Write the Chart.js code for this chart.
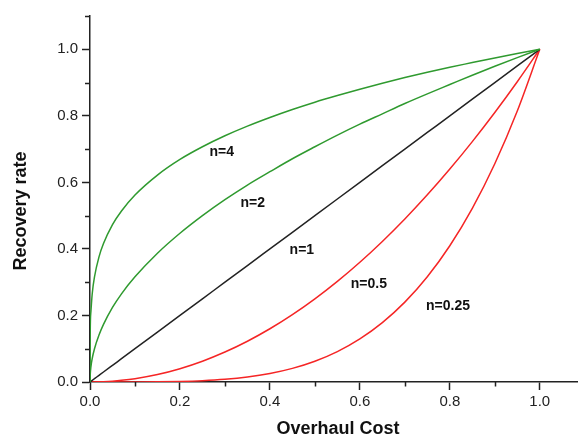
<!DOCTYPE html>
<html>
<head>
<meta charset="utf-8">
<script src="https://cdn.jsdelivr.net/npm/chart.js@4/dist/chart.umd.min.js"></script>
<style>
  html, body { margin: 0; padding: 0; background: #fff; overflow: hidden; }
  #wrap { width: 578px; height: 445px; position: relative; }
</style>
</head>
<body>
<div id="wrap"><canvas id="curveChart"></canvas></div>
<script>
// overhaul cost (x) sampled along each curve
const costs = [0, 0.0005, 0.002, 0.005, 0.01, 0.02, 0.03, 0.05, 0.07, 0.1, 0.15, 0.2, 0.25, 0.3, 0.35,
               0.4, 0.45, 0.5, 0.55, 0.6, 0.65, 0.7, 0.75, 0.8, 0.85, 0.9, 0.95, 1.0];

// recovery rate for each n
const rateN4 = [0, 0.150, 0.211, 0.266, 0.316, 0.376, 0.416, 0.473, 0.514, 0.562, 0.622, 0.669, 0.707, 0.740,
                0.769, 0.795, 0.819, 0.841, 0.861, 0.880, 0.898, 0.915, 0.931, 0.946, 0.960, 0.974, 0.987, 1.0];
const rateN2 = [0, 0.022, 0.045, 0.071, 0.100, 0.141, 0.173, 0.224, 0.265, 0.316, 0.387, 0.447, 0.500, 0.548,
                0.592, 0.632, 0.671, 0.707, 0.742, 0.775, 0.806, 0.837, 0.866, 0.894, 0.922, 0.949, 0.975, 1.0];
const rateN1 = [0, 0.0005, 0.002, 0.005, 0.01, 0.02, 0.03, 0.05, 0.07, 0.1, 0.15, 0.2, 0.25, 0.3, 0.35,
                0.4, 0.45, 0.5, 0.55, 0.6, 0.65, 0.7, 0.75, 0.8, 0.85, 0.9, 0.95, 1.0];
const rateN05 = [0, 0, 0, 0, 0.0001, 0.0004, 0.0009, 0.0025, 0.0049, 0.010, 0.0225, 0.040, 0.0625, 0.090,
                 0.1225, 0.160, 0.2025, 0.250, 0.3025, 0.360, 0.4225, 0.490, 0.5625, 0.640, 0.7225, 0.810, 0.9025, 1.0];
const rateN025 = [0, 0, 0, 0, 0, 0, 0, 0, 0, 0.0001, 0.0005, 0.0016, 0.0039, 0.0081, 0.015, 0.0256, 0.041,
                  0.0625, 0.0915, 0.1296, 0.1785, 0.2401, 0.3164, 0.4096, 0.522, 0.6561, 0.8145, 1.0];

// curve labels, placed in data units
const curveLabels = [
  { text: 'n=4',    x: 0.293, y: 0.690 },
  { text: 'n=2',    x: 0.362, y: 0.539 },
  { text: 'n=1',    x: 0.471, y: 0.395 },
  { text: 'n=0.5',  x: 0.620, y: 0.295 },
  { text: 'n=0.25', x: 0.796, y: 0.229 }
];

const GREEN = '#2f9a2f';
const RED = '#f52525';
const INK = '#222';
const FONT = '"Liberation Sans", Arial, Helvetica, sans-serif';

function toPoints(ys) {
  return costs.map((c, i) => ({ x: c, y: ys[i] }));
}

function curve(ys, color) {
  return {
    data: toPoints(ys),
    borderColor: color,
    borderWidth: 1.5,
    pointRadius: 0,
    fill: false,
    cubicInterpolationMode: 'monotone'
  };
}

// odd tenths get a short tick, drawn here; even tenths get the library's long tick
const minorTicks = {
  id: 'minorTicks',
  afterDraw(chart) {
    const ctx = chart.ctx;
    const xs = chart.scales.x, ys = chart.scales.y;
    ctx.save();
    ctx.strokeStyle = INK;
    ctx.lineWidth = 1.5;
    ctx.beginPath();
    for (let k = 1; k <= 9; k += 2) {
      const px = Math.round(xs.getPixelForValue(k / 10)) + 0.5;
      ctx.moveTo(px, xs.top);
      ctx.lineTo(px, xs.top + 4.5);
    }
    for (let k = 1; k <= 11; k += 2) {
      const py = Math.round(ys.getPixelForValue(k / 10)) + 0.5;
      ctx.moveTo(ys.right, py);
      ctx.lineTo(ys.right - 5, py);
    }
    ctx.stroke();
    ctx.restore();
  }
};

// curve labels and the two axis titles
const annotations = {
  id: 'annotations',
  afterDraw(chart) {
    const ctx = chart.ctx;
    const xs = chart.scales.x, ys = chart.scales.y;
    ctx.save();
    ctx.fillStyle = '#111';
    ctx.textAlign = 'center';
    ctx.textBaseline = 'middle';
    ctx.font = 'bold 14px ' + FONT;
    curveLabels.forEach(l => {
      ctx.fillText(l.text, xs.getPixelForValue(l.x), ys.getPixelForValue(l.y));
    });

    ctx.font = 'bold 18px ' + FONT;
    ctx.fillText('Overhaul Cost', 338, 429);

    ctx.translate(21, 211);
    ctx.rotate(-Math.PI / 2);
    ctx.fillText('Recovery rate', 0, 0);
    ctx.restore();
  }
};

const tickFont = { family: FONT, size: 15 };
const evenTenths = v => (Math.round(v * 10) % 2 === 0 && v <= 1.0001) ? v.toFixed(1) : '';
const tickStroke = ctx => (Math.round(ctx.tick.value * 10) % 2 === 0) ? INK : 'rgba(0,0,0,0)';

new Chart(document.getElementById('curveChart'), {
  type: 'line',
  data: {
    datasets: [
      curve(rateN4, GREEN),
      curve(rateN2, GREEN),
      curve(rateN1, INK),
      curve(rateN05, RED),
      curve(rateN025, RED)
    ]
  },
  options: {
    responsive: true,
    maintainAspectRatio: false,
    animation: false,
    layout: { padding: { top: 16, right: 0, left: 0, bottom: 0 } },
    plugins: {
      legend: { display: false },
      tooltip: { enabled: false }
    },
    scales: {
      x: {
        type: 'linear',
        min: 0,
        max: 1.085,
        border: { color: INK, width: 1.5 },
        grid: { drawOnChartArea: false, tickLength: 8, tickWidth: 1.5, tickColor: tickStroke },
        ticks: {
          stepSize: 0.1,
          includeBounds: false,
          autoSkip: false,
          maxRotation: 0,
          padding: 3,
          color: INK,
          font: tickFont,
          callback: evenTenths
        },
        afterFit: s => { s.height = 63; }
      },
      y: {
        type: 'linear',
        min: 0,
        max: 1.1,
        border: { color: INK, width: 1.5 },
        grid: { drawOnChartArea: false, tickLength: 8, tickWidth: 1.5, tickColor: tickStroke },
        ticks: {
          stepSize: 0.1,
          autoSkip: false,
          padding: 4,
          color: INK,
          font: tickFont,
          callback: evenTenths
        },
        afterFit: s => { s.width = 90; }
      }
    }
  },
  plugins: [minorTicks, annotations]
});
</script>
</body>
</html>
